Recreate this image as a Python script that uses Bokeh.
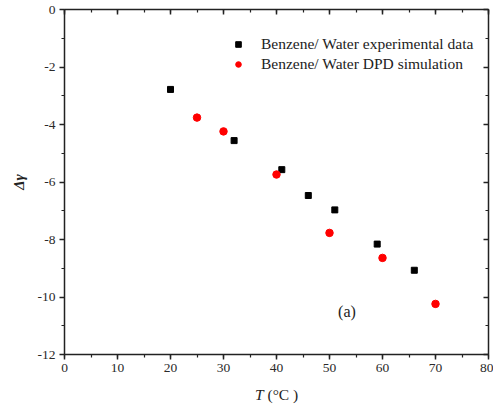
from bokeh.plotting import figure
from bokeh.layouts import column
from bokeh.models import LinearAxis, Range1d, Label, Legend, LegendItem, SingleIntervalTicker, Div
from bokeh.embed import file_html
from bokeh.resources import INLINE

exp_T = [20, 32, 41, 46, 51, 59, 66]
exp_dg = [-2.78, -4.56, -5.57, -6.47, -6.97, -8.16, -9.07]
sim_T = [25, 30, 40, 50, 60, 70]
sim_dg = [-3.76, -4.24, -5.74, -7.77, -8.64, -10.24]

x_ticks = [0, 10, 20, 30, 40, 50, 60, 70, 80]
y_ticks = [-12, -10, -8, -6, -4, -2, 0]
y_tick_labels = ["-12", "-10", "-8", "-6", "-4", "-2", "0"]
FONT = "Liberation Serif"

p = figure(frame_width=424, frame_height=345, x_range=Range1d(0, 80), y_range=Range1d(-12, 0),
           output_backend="svg", toolbar_location=None,
           min_border_left=64, min_border_top=9, min_border_right=5, min_border_bottom=28,
           x_axis_type=None, y_axis_type=None)
p.grid.visible = False
p.outline_line_color = None
p.background_fill_color = "white"


def style(ax, ticks, inward=False, labels=None):
    ax.axis_line_color = "#222222"
    ax.axis_line_width = 1.5
    ax.major_tick_line_color = "#222222"
    ax.minor_tick_line_color = "#222222"
    ax.major_tick_line_width = 1.5
    ax.minor_tick_line_width = 1.2
    if inward:
        ax.major_tick_in, ax.major_tick_out = 5, 0
        ax.minor_tick_in, ax.minor_tick_out = 3, 0
    else:
        ax.major_tick_in, ax.major_tick_out = 0, 5
        ax.minor_tick_in, ax.minor_tick_out = 0, 3
    ax.major_label_text_font = FONT
    ax.major_label_text_color = "#2a2a2a"
    ax.major_label_text_font_size = "13.5px"
    ax.major_label_standoff = 4
    if labels is None:
        ax.major_label_overrides = {t: "" for t in ticks}
        ax.major_label_standoff = 0
    else:
        ax.major_label_overrides = {t: l for t, l in zip(ticks, labels)}


xint = x_ticks[1] - x_ticks[0]
yint = y_ticks[1] - y_ticks[0]

xb = LinearAxis(ticker=SingleIntervalTicker(interval=xint, num_minor_ticks=2))
style(xb, x_ticks, labels=[str(t) for t in x_ticks])
p.add_layout(xb, "below")
xt = LinearAxis(ticker=SingleIntervalTicker(interval=xint, num_minor_ticks=2))
style(xt, x_ticks, inward=True)
p.add_layout(xt, "above")

yl = LinearAxis(ticker=SingleIntervalTicker(interval=yint, num_minor_ticks=2), axis_label="Δγ")
style(yl, y_ticks, labels=y_tick_labels)
yl.axis_label_text_font = FONT
yl.axis_label_text_font_style = "bold italic"
yl.axis_label_text_font_size = "15px"
yl.axis_label_text_color = "#222222"
yl.axis_label_standoff = 8
p.add_layout(yl, "left")
yr = LinearAxis(ticker=SingleIntervalTicker(interval=yint, num_minor_ticks=2))
style(yr, y_ticks, inward=True)
p.add_layout(yr, "right")

r1 = p.scatter(exp_T, exp_dg, marker="square", size=6, color="black")
r2 = p.scatter(sim_T, sim_dg, marker="circle", size=7.5, color="red")

legend = Legend(items=[LegendItem(label="Benzene/ Water experimental data", renderers=[r1]),
                       LegendItem(label="Benzene/ Water DPD simulation", renderers=[r2])],
                location=(167, 280))
legend.border_line_color = None
legend.background_fill_alpha = 0
legend.padding = 0
legend.margin = 0
legend.spacing = 0
legend.glyph_width = 14
legend.glyph_height = 20
legend.label_height = 20
legend.label_standoff = 16
legend.label_text_font = FONT
legend.label_text_font_size = "15.5px"
legend.label_text_color = "#222222"
p.add_layout(legend)

p.add_layout(Label(x=53.3, y=-10.5, text="(a)", text_align="center", text_baseline="middle",
                   text_font=FONT, text_font_size="16px", text_color="#222222"))

xlabel = Div(text="<i>T</i> (°C )", width=200, height=26, margin=(4, 0, 0, 255),
             styles={"font-family": FONT, "font-size": "15.5px", "color": "#222222",
                     "line-height": "18px"})

open("out.html", "w").write(file_html(column(p, xlabel), INLINE))
